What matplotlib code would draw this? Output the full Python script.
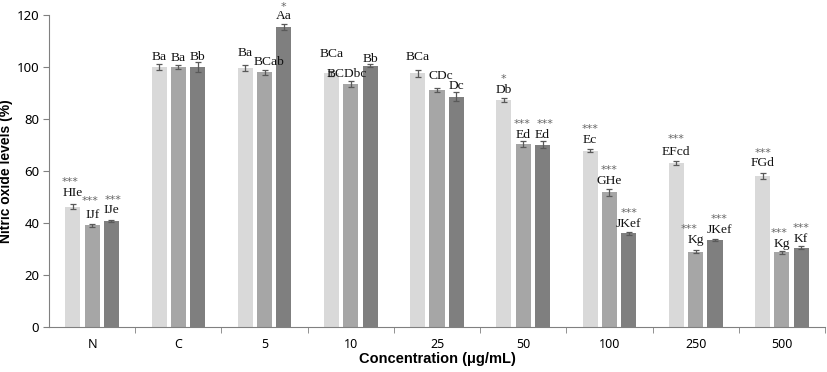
import matplotlib
matplotlib.use('Agg')
import matplotlib.pyplot as plt
import numpy as np

# 数据
categories = ['N', 'C', '5', '10', '25', '50', '100', '250', '500']
light = [46.2, 100.0, 99.6, 97.6, 97.5, 87.4, 67.8, 63.0, 58.0]
mid = [39.0, 100.0, 98.0, 93.5, 91.2, 70.2, 51.8, 28.9, 28.6]
dark = [40.7, 100.0, 115.5, 100.5, 88.6, 70.1, 35.9, 33.4, 30.4]
light_err = [1.0, 1.0, 1.0, 1.0, 1.5, 0.8, 0.6, 0.6, 1.0]
mid_err = [0.6, 0.8, 1.0, 1.2, 0.8, 1.2, 1.3, 0.5, 0.5]
dark_err = [0.5, 2.0, 1.2, 0.6, 1.6, 1.3, 0.5, 0.4, 0.6]

light_lab = ['HIe', 'Ba', 'Ba', 'BCa', 'BCa', 'Db', 'Ec', 'EFcd', 'FGd']
mid_lab = ['IJf', 'Ba', 'BCab', 'BCDbc', 'CDc', 'Ed', 'GHe', 'Kg', 'Kg']
dark_lab = ['IJe', 'Bb', 'Aa', 'Bb', 'Dc', 'Ed', 'JKef', 'JKef', 'Kf']
light_sig = ['***', '', '', '', '', '*', '***', '***', '***']
mid_sig = ['***', '', '', '', '', '***', '***', '***', '***']
dark_sig = ['***', '', '*', '', '', '***', '***', '***', '***']

# 标签偏移 (dx, dy) 单位: pt
light_off = [(0, 6), (0, 3), (0, 6.5), (0, 10), (0, 6.5), (0, 3.5), (0, 4.5), (0, 5), (0, 5)]
mid_off = [(0, 4.5), (0, 3), (3, 3), (-3, 3), (3, 6), (0, 2.5), (0, 3.5), (0, 5), (0, 3)]
dark_off = [(0, 5), (0, 1.5), (0, 3), (0, 1.5), (0, 2.5), (0, 2.5), (0, 4), (3, 4), (0, 3)]
star_dy = [[10, 12, 9], [10] * 3, [10, 10, 9], [10] * 3, [10] * 3, [10, 10, 10],
           [10, 10, 10], [11.5, 10, 10.5], [10, 10, 10]]
star_dx = [[-2, -1.5, 1.5], [0] * 3, [0] * 3, [0] * 3, [0] * 3, [0, -1, 2], [0] * 3,
           [0, -5, 0], [0, -2, 0]]

colors = ['#d9d9d9', '#a6a6a6', '#7f7f7f']

fig = plt.figure(figsize=(8.27, 3.72), dpi=100)
ax = fig.add_axes([0.0593, 0.1218, 0.9383, 0.838])

x = np.arange(len(categories))
bar_width = 0.175
step = 0.224

series = [(light, light_err, light_lab, light_sig, light_off),
          (mid, mid_err, mid_lab, mid_sig, mid_off),
          (dark, dark_err, dark_lab, dark_sig, dark_off)]

for k, (vals, errs, labs, sigs, offs) in enumerate(series):
    xs = x + (k - 1) * step
    ax.bar(xs, vals, bar_width, color=colors[k], zorder=2)
    ax.errorbar(xs, vals, yerr=errs, fmt='none', ecolor='#595959',
                elinewidth=0.9, capsize=2.3, capthick=0.9, zorder=3)
    for i in range(len(categories)):
        top = vals[i] + errs[i]
        dx, dy = offs[i]
        ax.annotate(labs[i], (xs[i], top), xytext=(dx, dy), textcoords='offset points',
                    ha='center', va='baseline', fontsize=9.7,
                    family='Liberation Serif', color='#111111', zorder=4)
        if sigs[i]:
            ax.annotate(sigs[i], (xs[i], top),
                        xytext=(dx + star_dx[i][k], dy + star_dy[i][k]),
                        textcoords='offset points', ha='center', va='center',
                        fontsize=8, family='DejaVu Sans', color='#666666', zorder=4)

ax.set_xlim(-0.5, len(categories) - 0.5)
ax.set_ylim(0, 120)
ax.set_yticks(range(0, 121, 20))
ax.set_xticks(x)
ax.set_xticklabels(categories)
ax.set_xticks(np.arange(-0.5, len(categories), 1.0)[1:], minor=True)
ax.tick_params(axis='x', which='major', length=0, pad=8, labelsize=9)
ax.tick_params(axis='x', which='minor', length=4, direction='out', color='#808080')
ax.tick_params(axis='y', length=4, direction='out', color='#808080', labelsize=9.5, pad=3)
for t in ax.get_xticklabels() + ax.get_yticklabels():
    t.set_family('Noto Sans')

for s in ['top', 'right']:
    ax.spines[s].set_visible(False)
for s in ['left', 'bottom']:
    ax.spines[s].set_color('#808080')

ax.set_xlabel('Concentration (μg/mL)', fontsize=10.5, fontweight='bold',
              family='Liberation Sans', labelpad=1)
ax.set_ylabel('Nitric oxide levels (%)', fontsize=10, fontweight='bold',
              family='Liberation Sans')
ax.yaxis.set_label_coords(-0.046, 0.5)

plt.savefig('out.png', dpi=100)
